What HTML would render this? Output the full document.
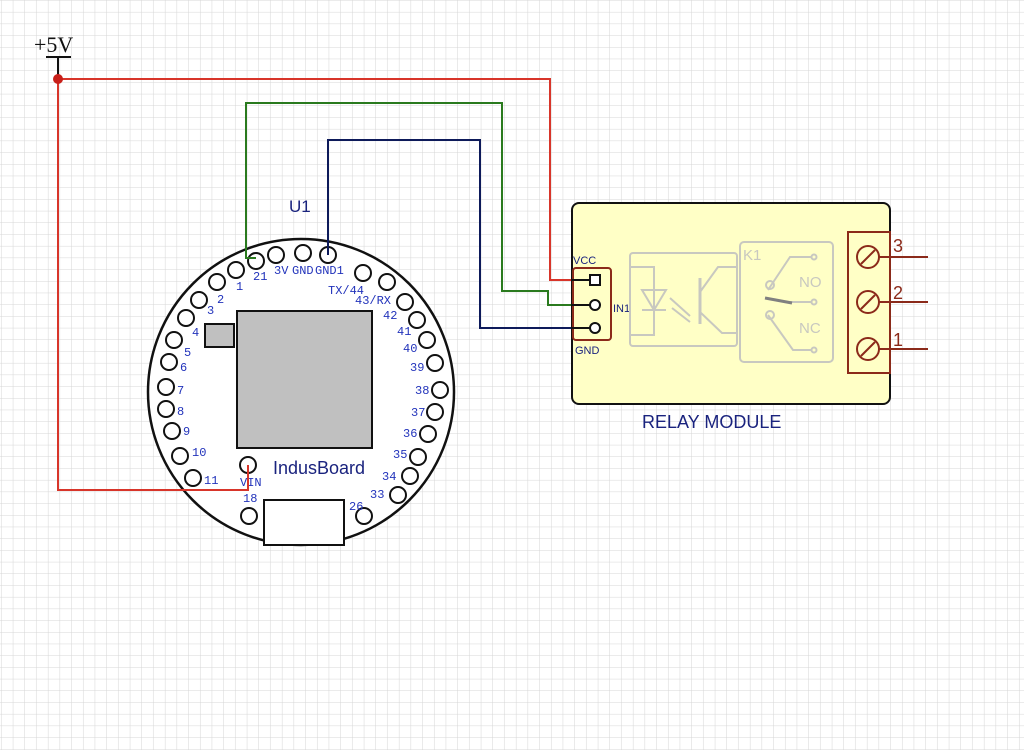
<!DOCTYPE html>
<html><head><meta charset="utf-8"><style>
html,body{margin:0;padding:0;background:#fff}
svg{display:block}
</style></head><body>
<svg width="1024" height="750" viewBox="0 0 1024 750" xmlns="http://www.w3.org/2000/svg">
<defs>
<pattern id="g" width="11.7" height="11.7" patternUnits="userSpaceOnUse" x="1.6" y="0.7">
<path d="M11.7 0V11.7M0 11.7H11.7" fill="none" stroke="#d6d6d6" stroke-width="1"/>
</pattern>
</defs>
<rect width="1024" height="750" fill="url(#g)"/>

<!-- +5V -->
<text x="34" y="52" font-family="Liberation Serif, serif" font-size="22" fill="#111">+5V</text>
<line x1="46" y1="57" x2="71" y2="57" stroke="#111" stroke-width="2"/>
<line x1="58" y1="57" x2="58" y2="79" stroke="#111" stroke-width="2"/>

<!-- board -->
<text x="289" y="212" font-family="Liberation Sans, sans-serif" font-size="17" fill="#1a237e">U1</text>
<circle cx="301" cy="392" r="153" fill="#fff" stroke="#111" stroke-width="2.5"/>
<rect x="237" y="311" width="135" height="137" fill="#c0c0c0" stroke="#111" stroke-width="2"/>
<rect x="205" y="324" width="29" height="23" fill="#c0c0c0" stroke="#111" stroke-width="2"/>
<rect x="264" y="500" width="80" height="45" fill="#fff" stroke="#111" stroke-width="2"/>
<text x="273" y="474" font-family="Liberation Sans, sans-serif" font-size="18" fill="#1a237e">IndusBoard</text>
<g fill="#fff" stroke="#111" stroke-width="2">
<circle cx="256" cy="261" r="8"/><circle cx="276" cy="255" r="8"/><circle cx="303" cy="253" r="8"/><circle cx="328" cy="255" r="8"/>
<circle cx="236" cy="270" r="8"/><circle cx="217" cy="282" r="8"/><circle cx="199" cy="300" r="8"/><circle cx="186" cy="318" r="8"/>
<circle cx="174" cy="340" r="8"/><circle cx="169" cy="362" r="8"/><circle cx="166" cy="387" r="8"/><circle cx="166" cy="409" r="8"/>
<circle cx="172" cy="431" r="8"/><circle cx="180" cy="456" r="8"/><circle cx="193" cy="478" r="8"/><circle cx="248" cy="465" r="8"/>
<circle cx="249" cy="516" r="8"/><circle cx="364" cy="516" r="8"/><circle cx="398" cy="495" r="8"/><circle cx="410" cy="476" r="8"/>
<circle cx="418" cy="457" r="8"/><circle cx="428" cy="434" r="8"/><circle cx="435" cy="412" r="8"/><circle cx="440" cy="390" r="8"/>
<circle cx="435" cy="363" r="8"/><circle cx="427" cy="340" r="8"/><circle cx="417" cy="320" r="8"/><circle cx="405" cy="302" r="8"/>
<circle cx="387" cy="282" r="8"/><circle cx="363" cy="273" r="8"/>
</g>
<g font-family="Liberation Mono, monospace" font-size="12" fill="#2233bb">
<text x="253" y="280">21</text><text x="274" y="274">3V</text><text x="292" y="274">GND</text><text x="315" y="274">GND1</text>
<text x="236" y="290">1</text><text x="217" y="303">2</text><text x="207" y="314">3</text><text x="192" y="336">4</text>
<text x="184" y="356">5</text><text x="180" y="371">6</text><text x="177" y="394">7</text><text x="177" y="415">8</text>
<text x="183" y="435">9</text><text x="192" y="456">10</text><text x="204" y="484">11</text><text x="240" y="486">VIN</text>
<text x="243" y="502">18</text><text x="349" y="510">26</text><text x="370" y="498">33</text><text x="382" y="480">34</text>
<text x="393" y="458">35</text><text x="403" y="437">36</text><text x="411" y="416">37</text><text x="415" y="394">38</text>
<text x="410" y="371">39</text><text x="403" y="352">40</text><text x="397" y="335">41</text><text x="383" y="319">42</text>
<text x="355" y="304">43/RX</text><text x="328" y="294">TX/44</text>
</g>

<!-- wires (drawn over board) -->
<g fill="none" stroke-width="2">
<polyline points="58,79 550,79 550,280 595,280" stroke="#d8352a"/>
<polyline points="58,79 58,490 248,490 248,465" stroke="#d8352a"/>
<polyline points="256,258 246,258 246,103 502,103 502,291 548,291 548,305 595,305" stroke="#2a7a1e"/>
<polyline points="328,255 328,140 480,140 480,328 595,328" stroke="#0d1a5a"/>
</g>
<circle cx="58" cy="79" r="5" fill="#c8201a"/>

<!-- relay module -->
<rect x="572" y="203" width="318" height="201" rx="7" fill="#ffffc6" stroke="#111" stroke-width="2"/>
<rect x="573" y="268" width="38" height="72" rx="3" fill="none" stroke="#8b2a1a" stroke-width="2"/>
<line x1="572" y1="280" x2="595" y2="280" stroke="#111" stroke-width="2"/>
<line x1="572" y1="305" x2="595" y2="305" stroke="#111" stroke-width="2"/>
<line x1="572" y1="328" x2="595" y2="328" stroke="#111" stroke-width="2"/>
<rect x="590" y="275" width="10" height="10" fill="#fff" stroke="#111" stroke-width="2"/>
<circle cx="595" cy="305" r="5" fill="#fff" stroke="#111" stroke-width="2"/>
<circle cx="595" cy="328" r="5" fill="#fff" stroke="#111" stroke-width="2"/>
<g font-family="Liberation Sans, sans-serif" font-size="11" fill="#1a237e">
<text x="573" y="264">VCC</text><text x="613" y="312">IN1</text><text x="575" y="354">GND</text>
</g>
<g fill="none" stroke="#c8c8c0" stroke-width="2">
<rect x="630" y="253" width="107" height="93" rx="3"/>
<polyline points="630,267 654,267 654,335 630,335"/>
<polygon points="642,290 666,290 654,310"/>
<line x1="642" y1="310" x2="666" y2="310"/>
<line x1="670" y1="298" x2="690" y2="316"/><line x1="672" y1="308" x2="690" y2="322"/>
<line x1="700" y1="278" x2="700" y2="324" stroke-width="3"/>
<polyline points="700,292 718,267 737,267"/>
<polyline points="700,312 722,333 737,333"/>
<rect x="740" y="242" width="93" height="120" rx="4"/>
<polyline points="768,290 790,257 812,257"/><circle cx="814" cy="257" r="2.5"/>
<polyline points="768,315 793,350 812,350"/><circle cx="814" cy="350" r="2.5"/>
<circle cx="770" cy="285" r="4"/><circle cx="770" cy="315" r="4"/>
<line x1="790" y1="302" x2="812" y2="302"/><circle cx="814" cy="302" r="2.5"/>
</g>
<line x1="765" y1="298" x2="792" y2="303" stroke="#808080" stroke-width="3"/>
<g font-family="Liberation Sans, sans-serif" font-size="15" fill="#c8c8c0">
<text x="743" y="260">K1</text><text x="799" y="287">NO</text><text x="799" y="333">NC</text>
</g>
<rect x="848" y="232" width="42" height="141" fill="#ffffc6" stroke="#8b2a1a" stroke-width="2"/>
<g fill="none" stroke="#8b2a1a" stroke-width="2">
<circle cx="868" cy="257" r="11"/><line x1="861" y1="264" x2="875" y2="250"/>
<circle cx="868" cy="302" r="11"/><line x1="861" y1="309" x2="875" y2="295"/>
<circle cx="868" cy="349" r="11"/><line x1="861" y1="356" x2="875" y2="342"/>
<line x1="879" y1="257" x2="928" y2="257"/><line x1="879" y1="302" x2="928" y2="302"/><line x1="879" y1="349" x2="928" y2="349"/>
</g>
<g font-family="Liberation Sans, sans-serif" font-size="18" fill="#8b2a1a">
<text x="893" y="252">3</text><text x="893" y="299">2</text><text x="893" y="346">1</text>
</g>
<text x="642" y="428" font-family="Liberation Sans, sans-serif" font-size="18" fill="#1a237e">RELAY MODULE</text>
</svg>
</body></html>
